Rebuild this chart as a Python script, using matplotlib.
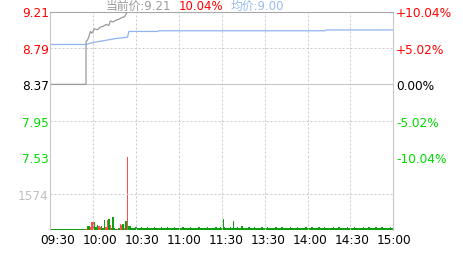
import numpy as np
import matplotlib
matplotlib.use("Agg")
import matplotlib.pyplot as plt

# minute index 0..240 (09:30-11:30, 13:00-15:00)
price_min = [0, 25, 25, 26, 27, 28, 29, 31, 33, 35, 37, 39, 41, 42, 44, 46, 48, 50, 52, 53, 54, 240]
price = [8.37, 8.37, 8.86, 8.88, 8.92, 8.98, 8.96, 9.01, 9.00, 9.03, 9.04, 9.06, 9.05, 9.10,
         9.09, 9.11, 9.12, 9.14, 9.15, 9.18, 9.21, 9.21]

avg_min = [0, 25, 30, 46, 54, 55, 75, 76, 192, 193, 240]
avg_price = [8.83, 8.83, 8.853, 8.899, 8.914, 8.98, 8.98, 8.988, 8.988, 8.997, 8.997]

volume = [
    60, 50, 50, 50, 50, 50, 50, 50, 50, 50, 50, 50, 50, 50, 50, 50, 50, 50, 50, 50,
    50, 50, 50, 50, 50,
    55, 170, 170, 130, 340, 340, 340, 150, 210, 170, 120, 170, 70, 430, 150,
    430, 470, 210, 90, 550, 70, 60, 55, 70, 250, 210, 250, 90, 380, 3148,
    170, 170, 100, 80, 70,
    120, 70, 90, 70, 120, 90, 70, 90, 120, 70, 90, 70, 70, 120, 90, 70, 90, 70, 120, 70,
    90, 70, 120, 90, 70, 70, 90, 120, 70, 90, 70, 90, 70, 120, 70, 90, 70, 90, 120, 70,
    90, 70, 90, 70, 120, 70, 90, 70, 70, 90, 120, 70, 90, 70, 90, 70, 120, 70, 90, 110,
    90, 470, 110, 70, 90, 70, 120, 70, 380, 90, 70, 120, 70, 90, 170, 90, 70, 90, 70, 120,
    70, 90, 70, 120, 70, 90, 70, 90, 120, 70, 90, 70, 120, 70, 90, 70, 90, 70, 120, 70,
    90, 70, 120, 70, 90, 70, 90, 70, 120, 70, 90, 70, 90, 120, 70, 90, 70, 90, 70, 120,
    70, 90, 70, 120, 70, 90, 70, 90, 120, 70, 90, 70, 120, 70, 90, 70, 90, 70, 120, 70,
    90, 70, 120, 70, 90, 70, 90, 70, 120, 70, 90, 70, 90, 120, 70, 90, 70, 90, 70, 120,
    70, 90, 70, 120, 70, 90, 70, 90, 120, 70, 90, 70, 120, 70, 90, 70, 90, 70, 120, 90, 140,
]
vol_dir = "g" * 25 + "rggrrrgggrrgggrrgrggggrgrrgrgrggggg" + "g" * 181

left_ticks = [9.21, 8.79, 8.37, 7.95, 7.53]
left_colors = ["#ff0000", "#ff0000", "#000000", "#00dd00", "#00dd00"]
pct_ticks = [10.04, 5.02, 0.0, -5.02, -10.04]
pct_labels = ["+10.04%", "+5.02%", "0.00%", "-5.02%", "-10.04%"]
time_labels = ["09:30", "10:00", "10:30", "11:00", "11:30", "13:30", "14:00", "14:30", "15:00"]
vol_tick = 1574

W, H = 463, 255
fig = plt.figure(figsize=(W / 100, H / 100), dpi=100)

def px_axes(x0, y0, x1, y1):
    return fig.add_axes([x0 / W, 1 - y1 / H, (x1 - x0) / W, (y1 - y0) / H])

GRID = "#c8c8c8"
FS = 8.7
ax = px_axes(50.3, 12.5, 393.3, 158.3)
axv = px_axes(50.3, 158.3, 393.3, 231)

# price panel
ax.set_xlim(0, 240)
ax.set_ylim(7.53, 9.21)
for y in [8.79, 7.95]:
    ax.axhline(y, color=GRID, lw=0.72, ls=(0, (2, 2)))
ax.axhline(8.37, color=GRID, lw=0.8)
for x in range(30, 240, 30):
    ax.axvline(x, color=GRID, lw=0.72, ls=(0, (2, 2)))
    axv.axvline(x, color=GRID, lw=0.72, ls=(0, (2, 2)))
ax.plot(avg_min, avg_price, color="#8fb4f0", lw=0.9)
ax.plot(price_min, price, color="#9a9a9a", lw=0.9)
ax.set_xticks([])
ax.set_yticks(left_ticks)
ax.set_yticklabels([f"{v:.2f}" for v in left_ticks], fontsize=FS)
for lab, c in zip(ax.get_yticklabels(), left_colors):
    lab.set_color(c)
ax.tick_params(axis="y", length=0, pad=1)
ax.spines["top"].set_color("#a8a8a8")
for s in ["left", "right", "bottom"]:
    ax.spines[s].set_color(GRID)
for s in ax.spines.values():
    s.set_linewidth(0.8)

ax2 = ax.twinx()
ax2.set_ylim(-10.04, 10.04)
ax2.set_yticks(pct_ticks)
ax2.set_yticklabels(pct_labels, fontsize=FS)
for lab, c in zip(ax2.get_yticklabels(), left_colors):
    lab.set_color(c)
ax2.tick_params(axis="y", length=0, pad=2)
for s in ax2.spines.values():
    s.set_visible(False)

# volume panel
mins = np.arange(len(volume))
cols = ["#ff4d4d" if d == "r" else "#0fa00f" for d in vol_dir]
axv.bar(mins, volume, width=1.0, color=cols, linewidth=0, antialiased=False)
axv.set_xlim(0, 240)
axv.set_ylim(0, 3148)
axv.axhline(vol_tick, color=GRID, lw=0.72, ls=(0, (2, 2)))
axv.set_yticks([vol_tick])
axv.set_yticklabels([str(vol_tick)], fontsize=FS, color="#c0c0c0")
axv.tick_params(axis="y", length=0, pad=1)
axv.set_xticks([])
axv.spines["top"].set_visible(False)
axv.spines["bottom"].set_visible(False)
for s in ["left", "right"]:
    axv.spines[s].set_color(GRID)
    axv.spines[s].set_linewidth(0.8)

for i, t in enumerate(time_labels):
    fig.text((58 + 42 * i) / W, 1 - 244 / H, t, fontsize=FS, ha="center", va="baseline", color="black")

fam = ["DejaVu Sans", "Noto Sans CJK SC"]
fig.text(106 / W, 1 - 10 / H, "当前价:9.21", fontsize=8.5, family=fam, color="#9a9a9a", va="baseline")
fig.text(179 / W, 1 - 10 / H, "10.04%", fontsize=8.5, family=fam, color="#ff0000", va="baseline")
fig.text(231 / W, 1 - 10 / H, "均价:9.00", fontsize=8.5, family=fam, color="#99bbee", va="baseline")

fig.savefig("out.png", dpi=100)
